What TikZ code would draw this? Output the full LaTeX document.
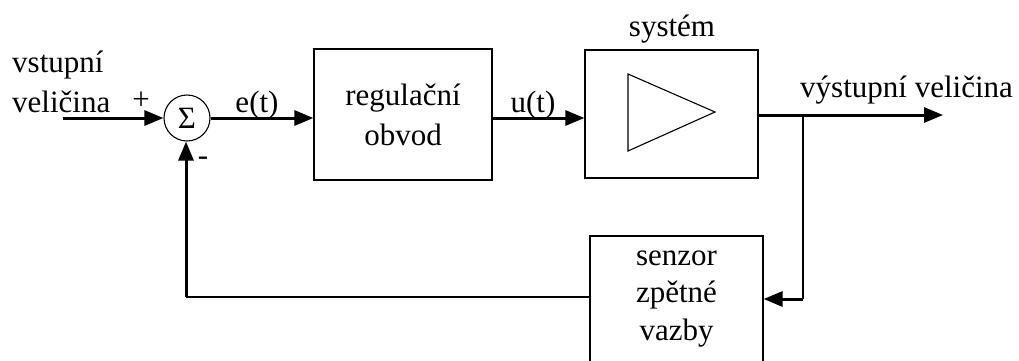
\documentclass[tikz,border=0pt]{standalone}
\usepackage{fontspec}
\setmainfont{Liberation Serif}
\usetikzlibrary{arrows.meta}
\begin{document}
\begin{tikzpicture}[x=1pt,y=-1pt,
  font=\fontsize{31}{38}\selectfont,
  thin line/.style={line width=1.1pt},
  thick line/.style={line width=3pt},
  flow/.style={thick line,-{Triangle[length=19pt,width=15pt]}},
  block/.style={draw,line width=1.2pt,rectangle,inner sep=0pt,align=center},
  lbl/.style={inner sep=0pt}]
\useasboundingbox (0,0) rectangle (1019,360);
\clip (0,0) rectangle (1019,360);

% summing junction
\node[draw,circle,line width=1.1pt,minimum size=46pt,inner sep=0pt] (sum) at (187,118) {Σ};

% blocks
\node[block,minimum width=178pt,minimum height=131pt] (reg) at (403,114.5)
  {regulační\\[2pt]obvod};
\node[block,minimum width=173pt,minimum height=128pt] (sys) at (671.5,114) {};
\node[block,minimum width=173pt,minimum height=126pt,
  font=\fontsize{31}{37.5}\selectfont] (sen) at (676.5,299)
  {senzor\\zpětné\\vazby};

% amplifier symbol inside the plant block
\draw[line width=1.1pt] (628,74) -- (628,151) -- (715,112) -- cycle;

% labels
\node[lbl,anchor=base west] (inA) at (12,72) {vstupní};
\node[lbl,anchor=base west] (inB) at (12,112) {veličina};
\node[lbl] (plus) at (141,101) {+};
\node[lbl] (minus) at (203,161) {-};
\node[lbl,anchor=base] (et) at (257,112) {e(t)};
\node[lbl,anchor=base] (ut) at (533,112) {u(t)};
\node[lbl,anchor=base] (syslbl) at (672,36) {systém};
\node[lbl,anchor=base west] (outlbl) at (800,97) {výstupní veličina};

% coordinates for line ends and bends
\coordinate (start) at (63,118);
\coordinate (out) at (943,115);
\coordinate (branch) at (803,115);
\coordinate (bdown) at (803,299);
\coordinate (fbcorner) at (186,297);

% forward path
\draw[flow] (start) -- (sum.west);
\draw[flow] (sum.east) -- (sum.east -| reg.west);
\draw[flow] (reg.east |- sum.east) -- (sys.west |- sum.east);
\draw[flow] (sys.east |- out) -- (out);

% feedback path
\draw[thin line] (branch) -- (bdown);
\draw[flow] (bdown) -- (bdown -| sen.east);
\draw[thin line] (sen.west |- fbcorner) -- (fbcorner);
\draw[flow] (fbcorner) -- (fbcorner |- sum.south);
\end{tikzpicture}
\end{document}
